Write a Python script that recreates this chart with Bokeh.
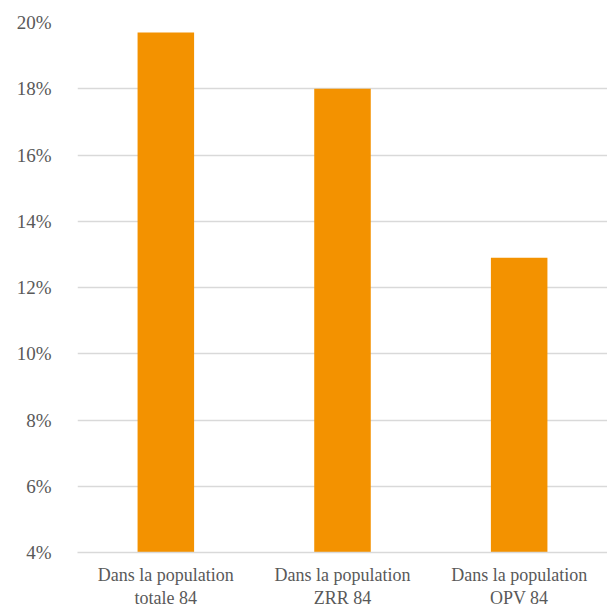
from bokeh.plotting import figure
from bokeh.models import Range1d, FactorRange, NumeralTickFormatter, FixedTicker, CategoricalAxis
from bokeh.embed import file_html
from bokeh.resources import INLINE

label_line1 = ["Dans la population", "Dans la population", "Dans la population"]
label_line2 = ["totale 84", "ZRR 84", "OPV 84"]
# first-line factors made unique with zero-width spaces (invisible)
line1_factors = [s + "\u200b" * i for i, s in enumerate(label_line1)]
values = [0.197, 0.180, 0.129]
y_ticks = [0.04, 0.06, 0.08, 0.10, 0.12, 0.14, 0.16, 0.18, 0.20]

FONT = "'Liberation Serif', 'DejaVu Serif', serif"
TEXT = "#595959"
GRID = "#D9D9D9"
BAR = "#F39200"

p = figure(x_range=FactorRange(factors=line1_factors), y_range=Range1d(y_ticks[0], y_ticks[-1]),
           frame_width=530, frame_height=530, output_backend="svg", toolbar_location=None,
           min_border_left=77, min_border_right=0, min_border_top=22, min_border_bottom=0)
p.extra_x_ranges = {"l2": FactorRange(factors=label_line2)}
p.vbar(x=line1_factors, top=values, bottom=y_ticks[0], width=0.32,
       fill_color=BAR, line_color=None)

p.outline_line_color = None
p.xgrid.grid_line_color = None
p.ygrid.grid_line_color = GRID
p.ygrid.grid_line_width = 1.3

p.yaxis.ticker = FixedTicker(ticks=y_ticks)
p.yaxis.formatter = NumeralTickFormatter(format="0%")
p.yaxis.axis_line_color = None
p.yaxis.major_tick_line_color = None
p.yaxis.minor_tick_line_color = None
p.yaxis.major_label_standoff = 20
p.yaxis.major_label_text_font = FONT
p.yaxis.major_label_text_font_size = "19px"
p.yaxis.major_label_text_color = TEXT

ax1 = p.xaxis[0]
ax1.axis_line_color = GRID
ax1.axis_line_width = 1.3
ax1.major_tick_line_color = None
ax1.minor_tick_line_color = None
ax1.major_label_standoff = 6
ax1.major_label_text_font = FONT
ax1.major_label_text_font_size = "18px"
ax1.major_label_text_color = TEXT

ax2 = CategoricalAxis(x_range_name="l2", axis_line_color=None, major_tick_line_color=None,
                      minor_tick_line_color=None, major_label_standoff=-6,
                      major_label_text_font=FONT, major_label_text_font_size="18px",
                      major_label_text_color=TEXT)
p.add_layout(ax2, "below")

open("out.html", "w").write(file_html(p, INLINE))
